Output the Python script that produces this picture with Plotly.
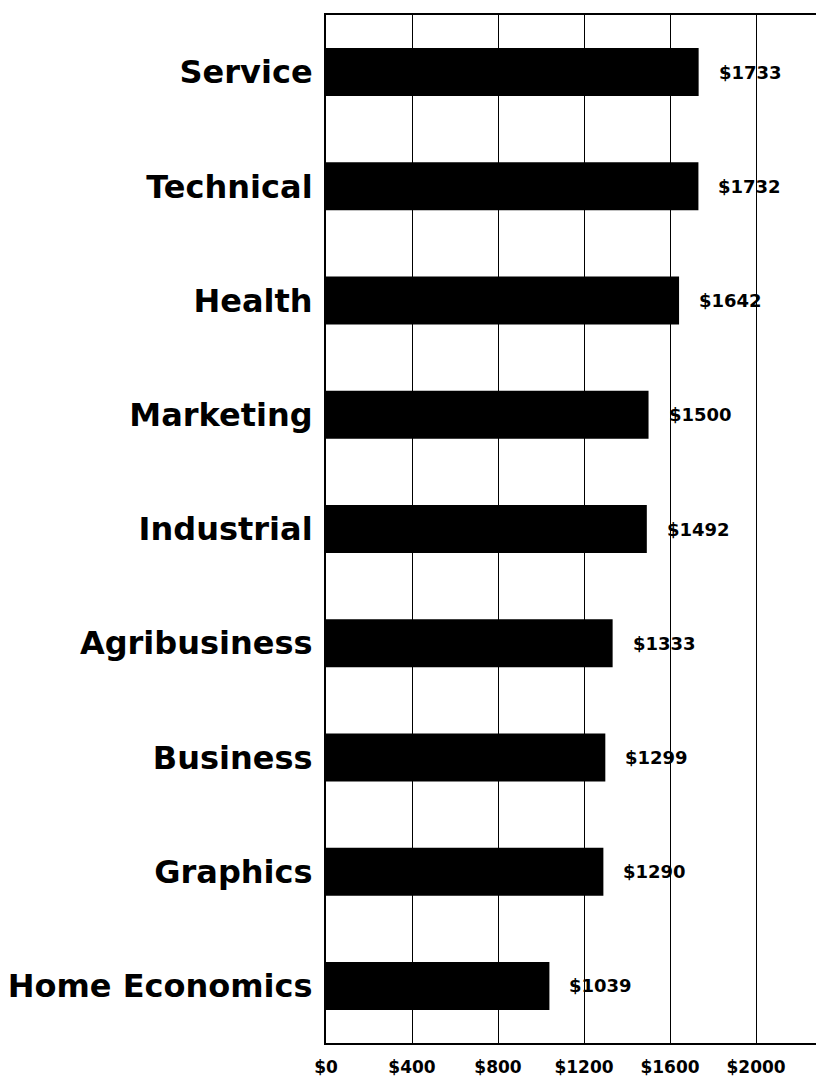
import plotly.graph_objects as go

categories = ["Service", "Technical", "Health", "Marketing", "Industrial",
              "Agribusiness", "Business", "Graphics", "Home Economics"]
values = [1733, 1732, 1642, 1500, 1492, 1333, 1299, 1290, 1039]
value_labels = ["$1733", "$1732", "$1642", "$1500", "$1492", "$1333", "$1299", "$1290", "$1039"]
tick_vals = [0, 400, 800, 1200, 1600, 2000]
tick_text = ["$0", "$400", "$800", "$1200", "$1600", "$2000"]

FONT = "DejaVu Sans"

fig = go.Figure()
fig.add_trace(go.Bar(
    y=categories, x=values, orientation="h",
    marker=dict(color="black", line=dict(width=0)),
    width=0.42, hoverinfo="skip",
))

for c, v, t in zip(categories, values, value_labels):
    fig.add_annotation(x=v, y=c, text=t, showarrow=False, xanchor="left",
                       xshift=18, yshift=0,
                       font=dict(family=FONT, size=18, color="black", weight="bold"))

fig.update_layout(
    width=816, height=1068,
    margin=dict(l=318, r=0, t=7, b=33),
    paper_bgcolor="white", plot_bgcolor="white",
    showlegend=False,
)
fig.update_xaxes(
    range=[0, 2316], tickvals=tick_vals, ticktext=tick_text,
    showgrid=True, gridcolor="black", gridwidth=1,
    showline=True, linecolor="black", linewidth=2, mirror=True,
    ticks="", zeroline=False, ticklabelstandoff=8,
    tickfont=dict(family=FONT, size=17, color="black", weight="bold"),
)
fig.update_yaxes(
    autorange="reversed",
    showgrid=False, showline=True, linecolor="black", linewidth=2,
    ticks="", ticklabelstandoff=5,
    tickfont=dict(family=FONT, size=32, color="black", weight="bold"),
)

fig.write_html("out.html")
